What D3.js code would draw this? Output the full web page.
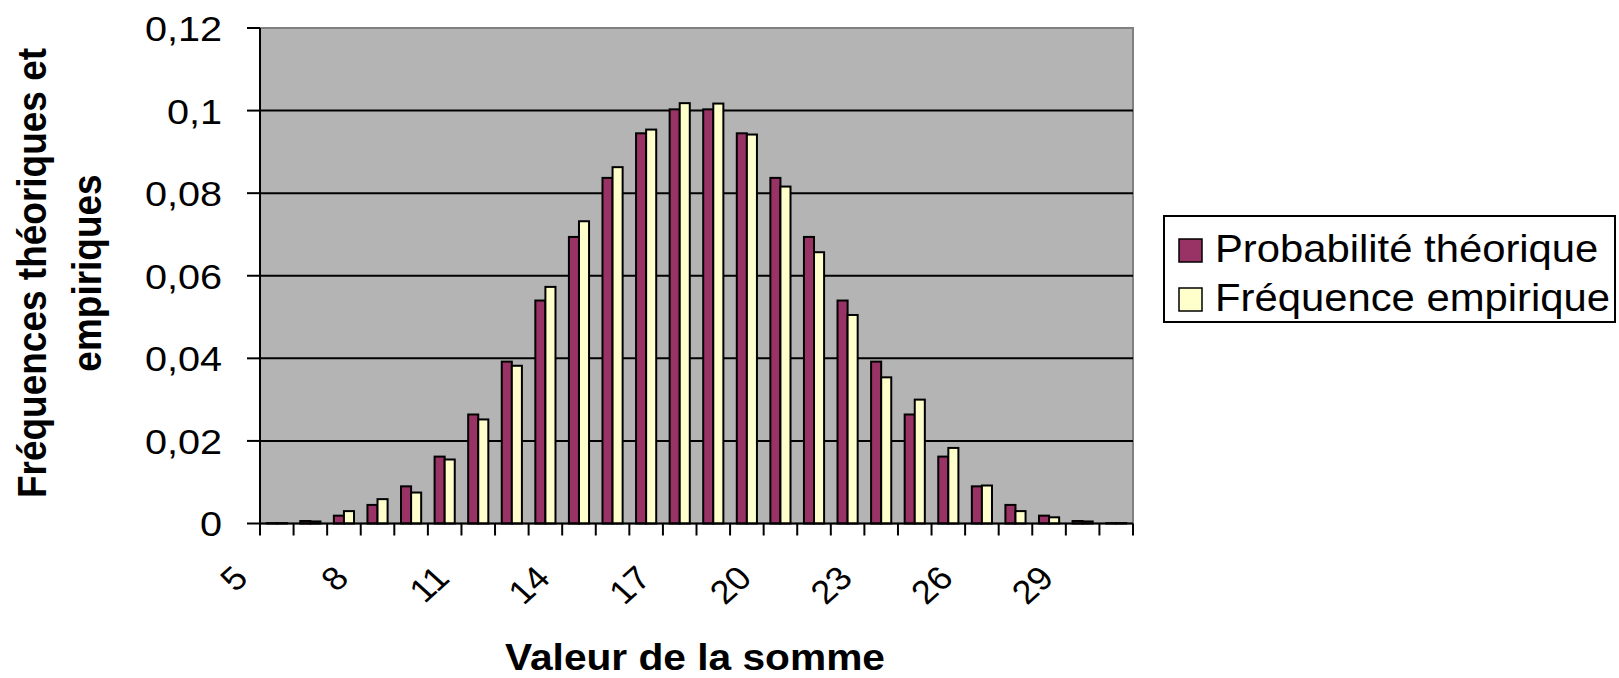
<!DOCTYPE html>
<html>
<head>
<meta charset="utf-8">
<script src="https://cdnjs.cloudflare.com/ajax/libs/d3/7.8.5/d3.min.js"></script>
<style>
  body { margin: 0; background: #fff; }
  text { font-family: "Liberation Sans", Arial, sans-serif; fill: #000; }
</style>
</head>
<body>
<script>
// Your data
var sums = [5, 6, 7, 8, 9, 10, 11, 12, 13, 14, 15, 16, 17, 18, 19, 20, 21, 22, 23, 24, 25, 26, 27, 28, 29, 30];
var theorique = [0.0001, 0.0006, 0.0019, 0.0045, 0.0090, 0.0162, 0.0264, 0.0392, 0.0540, 0.0694, 0.0837, 0.0945, 0.1003,
                 0.1003, 0.0945, 0.0837, 0.0694, 0.0540, 0.0392, 0.0264, 0.0162, 0.0090, 0.0045, 0.0019, 0.0006, 0.0001];
var empirique = [0.0001, 0.0005, 0.0030, 0.0059, 0.0075, 0.0155, 0.0252, 0.0382, 0.0573, 0.0732, 0.0863, 0.0954, 0.1018,
                 0.1017, 0.0942, 0.0816, 0.0657, 0.0505, 0.0354, 0.0300, 0.0183, 0.0092, 0.0030, 0.0015, 0.0005, 0.0001];
var xTickLabels = [5, 8, 11, 14, 17, 20, 23, 26, 29];
var yTicks = [0, 0.02, 0.04, 0.06, 0.08, 0.1, 0.12];
var seriesNames = ["Probabilité théorique", "Fréquence empirique"];
var seriesColors = ["#993366", "#ffffcc"];

var data = sums.map(function(s, i) { return { sum: s, values: [theorique[i], empirique[i]] }; });

// picture is stretched a bit horizontally, like the source image
var sx = 1.1;

var plot = { left: 260, right: 1133, top: 28, bottom: 523.5 };

var svg = d3.select("body").append("svg")
    .attr("width", 1619)
    .attr("height", 678);

// scales
var x = d3.scaleBand()
    .domain(sums)
    .range([plot.left, plot.right])
    .paddingInner(0.4)
    .paddingOuter(0.2);

var xs = d3.scaleBand()
    .domain([0, 1])
    .range([0, x.bandwidth()]);

var y = d3.scaleLinear()
    .domain([0, 0.12])
    .range([plot.bottom, plot.top]);

var fmt = d3.formatLocale({ decimal: ",", thousands: " ", grouping: [3], currency: ["", ""] }).format("~g");

// plot area
svg.append("rect")
    .attr("x", plot.left)
    .attr("y", plot.top)
    .attr("width", plot.right - plot.left)
    .attr("height", plot.bottom - plot.top)
    .attr("fill", "#b4b4b4")
    .attr("stroke", "#808080")
    .attr("stroke-width", 2);

// gridlines
svg.append("g")
  .selectAll("line")
  .data(yTicks.filter(function(d) { return d > 0 && d < 0.12; }))
  .enter().append("line")
    .attr("x1", plot.left)
    .attr("x2", plot.right)
    .attr("y1", function(d) { return y(d); })
    .attr("y2", function(d) { return y(d); })
    .attr("stroke", "#000")
    .attr("stroke-width", 2);

// bars
svg.append("g")
  .selectAll("g")
  .data(data)
  .enter().append("g")
    .attr("transform", function(d) { return "translate(" + x(d.sum) + ",0)"; })
  .selectAll("rect")
  .data(function(d) { return d.values; })
  .enter().append("rect")
    .attr("x", function(d, i) { return xs(i); })
    .attr("y", function(d) { return y(d); })
    .attr("width", xs.bandwidth())
    .attr("height", function(d) { return y(0) - y(d); })
    .attr("fill", function(d, i) { return seriesColors[i]; })
    .attr("stroke", "#000")
    .attr("stroke-width", 2);

// y axis
var yAxis = svg.append("g");
yAxis.append("line")
    .attr("x1", plot.left).attr("x2", plot.left)
    .attr("y1", plot.top).attr("y2", plot.bottom)
    .attr("stroke", "#000").attr("stroke-width", 2);
yAxis.selectAll(".tick")
  .data(yTicks)
  .enter().append("line")
    .attr("x1", plot.left - 13).attr("x2", plot.left)
    .attr("y1", function(d) { return y(d); })
    .attr("y2", function(d) { return y(d); })
    .attr("stroke", "#000").attr("stroke-width", 2);
yAxis.selectAll("text")
  .data(yTicks)
  .enter().append("text")
    .attr("transform", function(d) { return "translate(222," + y(d) + ") scale(" + sx + ",1)"; })
    .attr("dy", "0.36em")
    .attr("text-anchor", "end")
    .style("font-size", "36px")
    .text(fmt);

// x axis
var step = x.step();
var bounds = sums.map(function(s) { return x(s) - step * x.paddingInner() / 2; });
bounds.push(plot.right);
var xAxis = svg.append("g");
xAxis.append("line")
    .attr("x1", plot.left).attr("x2", plot.right)
    .attr("y1", plot.bottom).attr("y2", plot.bottom)
    .attr("stroke", "#000").attr("stroke-width", 2);
xAxis.selectAll(".tick")
  .data(bounds)
  .enter().append("line")
    .attr("x1", function(d) { return d; })
    .attr("x2", function(d) { return d; })
    .attr("y1", plot.bottom).attr("y2", plot.bottom + 12)
    .attr("stroke", "#000").attr("stroke-width", 2);
xAxis.selectAll("text")
  .data(xTickLabels)
  .enter().append("text")
    .attr("transform", function(d) {
      var cx = x(d) + x.bandwidth() / 2;
      return "translate(" + (cx - 27) + ",580) scale(" + sx + ",1) rotate(-45)";
    })
    .attr("text-anchor", "end")
    .style("font-size", "33px")
    .text(function(d) { return d; });

// axis titles
svg.append("text")
    .attr("transform", "translate(695,670) scale(" + sx + ",1)")
    .attr("text-anchor", "middle")
    .style("font-size", "37px")
    .style("font-weight", "bold")
    .text("Valeur de la somme");

svg.append("text")
    .attr("transform", "translate(46,273) scale(" + sx + ",1) rotate(-90)")
    .attr("text-anchor", "middle")
    .style("font-size", "37px")
    .style("font-weight", "bold")
    .text("Fréquences théoriques et");

svg.append("text")
    .attr("transform", "translate(101,273) scale(" + sx + ",1) rotate(-90)")
    .attr("text-anchor", "middle")
    .style("font-size", "37px")
    .style("font-weight", "bold")
    .text("empiriques");

// legend
var legend = svg.append("g").attr("transform", "translate(1164,216)");
legend.append("rect")
    .attr("width", 451)
    .attr("height", 106)
    .attr("fill", "#fff")
    .attr("stroke", "#000")
    .attr("stroke-width", 2);
var item = legend.selectAll(".item")
  .data(seriesNames)
  .enter().append("g")
    .attr("transform", function(d, i) { return "translate(15," + (23 + i * 49) + ")"; });
item.append("rect")
    .attr("width", 23)
    .attr("height", 23)
    .attr("fill", function(d, i) { return seriesColors[i]; })
    .attr("stroke", "#000")
    .attr("stroke-width", 1.5);
item.append("text")
    .attr("transform", "translate(36,23) scale(" + sx + ",1)")
    .style("font-size", "38px")
    .text(function(d) { return d; });
</script>
</body>
</html>
